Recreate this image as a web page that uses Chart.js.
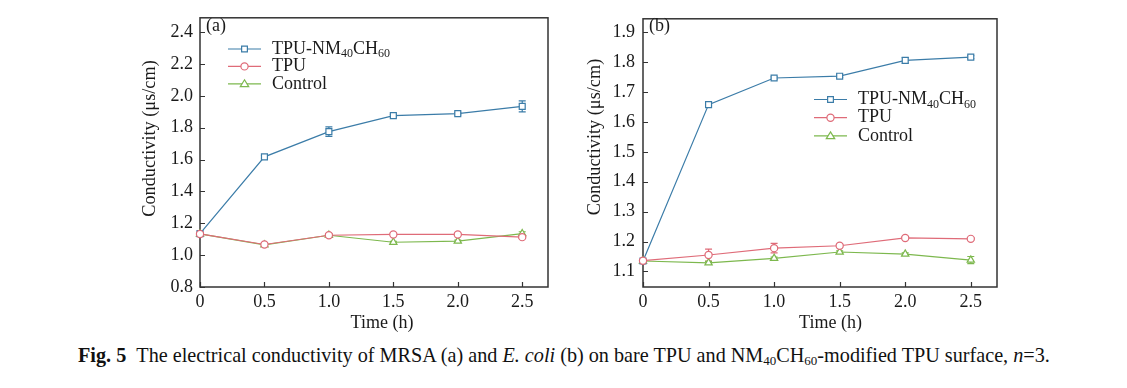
<!DOCTYPE html>
<html><head><meta charset="utf-8">
<script src="https://cdn.jsdelivr.net/npm/chart.js@4.4.0/dist/chart.umd.min.js"></script>
<style>
html,body{margin:0;padding:0;background:#fff;width:1127px;height:388px;overflow:hidden;position:relative;}
canvas{position:absolute;top:0;}
#ca{left:0;} #cb{left:560px;}
#cap{position:absolute;left:78px;top:344px;font-family:'Liberation Serif',serif;font-size:20.2px;color:#111;white-space:nowrap;line-height:22px;}
#cap sub{font-size:13px;vertical-align:-3px;line-height:0;}
</style></head><body>
<canvas id="ca" width="560" height="335"></canvas>
<canvas id="cb" width="567" height="335"></canvas>
<div id="cap"><b>Fig. 5</b>&nbsp;&nbsp;The electrical conductivity of MRSA (a) and <i>E. coli</i> (b) on bare TPU and NM<sub>40</sub>CH<sub>60</sub>-modified TPU surface, <i>n</i>=3.</div>
<script>
// ---- data ----
const times = [0, 0.5, 1.0, 1.5, 2.0, 2.5];
const xTickLabels = ['0', '0.5', '1.0', '1.5', '2.0', '2.5'];
const seriesNames = ['TPU-NM_{40}CH_{60}', 'TPU', 'Control'];

const yTicksA = [0.8, 1.0, 1.2, 1.4, 1.6, 1.8, 2.0, 2.2, 2.4];
const yTickLabelsA = ['0.8', '1.0', '1.2', '1.4', '1.6', '1.8', '2.0', '2.2', '2.4'];
const yTicksB = [1.1, 1.2, 1.3, 1.4, 1.5, 1.6, 1.7, 1.8, 1.9];
const yTickLabelsB = ['1.1', '1.2', '1.3', '1.4', '1.5', '1.6', '1.7', '1.8', '1.9'];

// (a) MRSA
const aNM = [1.135, 1.617, 1.775, 1.876, 1.888, 1.934];
const aNMErr = [0.008, 0.008, 0.03, 0.008, 0.008, 0.035];
const aTPU = [1.133, 1.067, 1.125, 1.130, 1.130, 1.113];
const aTPUErr = [0.008, 0.006, 0.008, 0.004, 0.004, 0.008];
const aCtrl = [1.133, 1.065, 1.125, 1.081, 1.088, 1.135];
const aCtrlErr = [0.004, 0.004, 0.008, 0.006, 0.006, 0.012];

// (b) E. coli
const bNM = [1.135, 1.658, 1.747, 1.753, 1.806, 1.817];
const bNMErr = [0.004, 0.004, 0.004, 0.004, 0.009, 0.005];
const bTPU = [1.136, 1.155, 1.178, 1.186, 1.212, 1.209];
const bTPUErr = [0.004, 0.02, 0.016, 0.005, 0.004, 0.004];
const bCtrl = [1.135, 1.129, 1.144, 1.165, 1.158, 1.138];
const bCtrlErr = [0.004, 0.005, 0.004, 0.004, 0.004, 0.012];

// ---- styles ----
const COLORS = ['#3b7ca8', '#df6b78', '#7db84e'];
const STYLES = ['rect', 'circle', 'triangle'];
const FONT = "'Liberation Serif', 'Times New Roman', serif";

function pts(vals) { return times.map((t, i) => ({x: t, y: vals[i]})); }

function drawMarker(ctx, style, x, y, r) {
  ctx.beginPath();
  if (style === 'rect') {
    const s = r * 0.72;
    ctx.rect(x - s, y - s, 2 * s, 2 * s);
  } else if (style === 'circle') {
    ctx.arc(x, y, r * 0.9, 0, Math.PI * 2);
  } else {
    const h = r * 1.0;
    ctx.moveTo(x, y - h);
    ctx.lineTo(x + h * 1.05, y + h * 0.7);
    ctx.lineTo(x - h * 1.05, y + h * 0.7);
    ctx.closePath();
  }
  ctx.fillStyle = '#fff';
  ctx.fill();
  ctx.stroke();
}

function drawRich(ctx, str, x, y) {
  const parts = str.split(/(_\{[^}]*\})/);
  for (const p of parts) {
    if (!p) continue;
    if (p.startsWith('_{')) {
      const t = p.slice(2, -1);
      ctx.font = '12px ' + FONT;
      ctx.fillText(t, x, y + 5);
      x += ctx.measureText(t).width;
    } else {
      ctx.font = '18px ' + FONT;
      ctx.fillText(p, x, y);
      x += ctx.measureText(p).width;
    }
  }
}

const decoPlugin = {
  id: 'deco',
  beforeDatasetsDraw(chart) {
    const o = chart.options.plugins.deco;
    const {ctx, chartArea: ca} = chart;
    const xs = chart.scales.x, ys = chart.scales.y;
    ctx.save();
    // frame
    ctx.strokeStyle = '#333';
    ctx.lineWidth = 1.5;
    ctx.strokeRect(ca.left, ca.top, ca.right - ca.left, ca.bottom - ca.top);
    // inward ticks
    ctx.lineWidth = 1.2;
    ctx.beginPath();
    for (const t of ys.ticks) {
      const y = Math.round(ys.getPixelForValue(t.value)) + 0.5;
      ctx.moveTo(ca.left, y); ctx.lineTo(ca.left + 5, y);
    }
    for (const t of xs.ticks) {
      const x = Math.round(xs.getPixelForValue(t.value)) + 0.5;
      ctx.moveTo(x, ca.bottom); ctx.lineTo(x, ca.bottom - 5);
    }
    ctx.stroke();
    // error bars
    chart.data.datasets.forEach((ds, i) => {
      const err = o.errors[i];
      ctx.strokeStyle = ds.borderColor;
      ctx.lineWidth = 1.2;
      ctx.beginPath();
      ds.data.forEach((p, j) => {
        const x = xs.getPixelForValue(p.x);
        const y1 = ys.getPixelForValue(p.y + err[j]);
        const y2 = ys.getPixelForValue(p.y - err[j]);
        ctx.moveTo(x, y1); ctx.lineTo(x, y2);
        ctx.moveTo(x - 3.5, y1); ctx.lineTo(x + 3.5, y1);
        ctx.moveTo(x - 3.5, y2); ctx.lineTo(x + 3.5, y2);
      });
      ctx.stroke();
    });
    ctx.restore();
  },
  afterDraw(chart) {
    const o = chart.options.plugins.deco;
    const {ctx, chartArea: ca} = chart;
    ctx.save();
    ctx.fillStyle = '#1a1a1a';
    ctx.textBaseline = 'middle';
    // panel label
    ctx.font = '18px ' + FONT;
    ctx.textAlign = 'left';
    ctx.fillText(o.panel, ca.left + 6, o.panelY);
    // legend
    o.names.forEach((name, i) => {
      const y = o.legendY + i * o.rowGap;
      const x0 = o.legendX;
      ctx.strokeStyle = COLORS[i];
      ctx.lineWidth = 1.2;
      ctx.beginPath(); ctx.moveTo(x0, y); ctx.lineTo(x0 + 33, y); ctx.stroke();
      drawMarker(ctx, STYLES[i], x0 + 16.5, y, 4);
      ctx.fillStyle = '#1a1a1a';
      drawRich(ctx, name, x0 + 44, y);
    });
    // axis titles
    ctx.font = '18px ' + FONT;
    ctx.textAlign = 'center';
    ctx.fillText('Time (h)', o.xTitleX, o.xTitleY);
    ctx.translate(o.yTitleX, o.yTitleY);
    ctx.rotate(-Math.PI / 2);
    ctx.font = '18.3px ' + FONT;
    ctx.fillText('Conductivity (\u03bcs/cm)', 0, 0);
    ctx.restore();
  }
};

function makeChart(id, vals, errs, yTicks, yLabels, yMin, yMax, pad, yWidth, yPad, deco) {
  const datasets = vals.map((v, i) => ({
    label: seriesNames[i],
    data: pts(v),
    borderColor: COLORS[i],
    backgroundColor: '#fff',
    borderWidth: 1.2,
    pointStyle: STYLES[i],
    pointRadius: STYLES[i] === 'rect' ? 4.2 : (STYLES[i] === 'circle' ? 3.6 : 4.2),
    pointBorderWidth: 1.2,
    pointBackgroundColor: '#fff',
    pointBorderColor: COLORS[i],
    tension: 0,
    clip: false,
    order: i === 1 ? 0 : (i === 0 ? 1 : 2)
  }));
  deco.errors = errs;
  deco.names = seriesNames;
  return new Chart(document.getElementById(id), {
    type: 'line',
    data: {datasets},
    plugins: [decoPlugin],
    options: {
      responsive: false,
      animation: false,
      devicePixelRatio: 1,
      layout: {padding: pad},
      plugins: {legend: {display: false}, tooltip: {enabled: false}, deco},
      scales: {
        x: {
          type: 'linear', min: 0, max: 2.7,
          grid: {display: false, drawTicks: false},
          border: {display: false},
          afterBuildTicks: s => { s.ticks = times.map(v => ({value: v})); },
          afterFit: s => { s.height = 45; },
          ticks: {
            autoSkip: false, maxRotation: 0, padding: 4,
            font: {family: FONT, size: 18}, color: '#1a1a1a',
            callback: (v, i) => xTickLabels[i]
          }
        },
        y: {
          type: 'linear', min: yMin, max: yMax,
          grid: {display: false, drawTicks: false},
          border: {display: false},
          afterBuildTicks: s => { s.ticks = yTicks.map(v => ({value: v})); },
          afterFit: s => { s.width = yWidth; },
          ticks: {
            padding: yPad,
            font: {family: FONT, size: 18}, color: '#1a1a1a',
            callback: (v, i) => yLabels[i]
          }
        }
      }
    }
  });
}

makeChart('ca', [aNM, aTPU, aCtrl], [aNMErr, aTPUErr, aCtrlErr], yTicksA, yTickLabelsA, 0.8, 2.49,
  {left: 139, right: 12, top: 13, bottom: 3}, 61, 7,
  {panel: '(a)', panelY: 26, legendX: 228, legendY: 49, rowGap: 17.4,
   xTitleX: 382, xTitleY: 323, yTitleX: 150, yTitleY: 138.5});

makeChart('cb', [bNM, bTPU, bCtrl], [bNMErr, bTPUErr, bCtrlErr], yTicksB, yTickLabelsB, 1.048, 1.945,
  {left: 24, right: 130, top: 12, bottom: 3}, 59, 8,
  {panel: '(b)', panelY: 26, legendX: 254, legendY: 99.5, rowGap: 18.2,
   xTitleX: 270.5, xTitleY: 323, yTitleX: 35, yTitleY: 137});
</script>
</body></html>
